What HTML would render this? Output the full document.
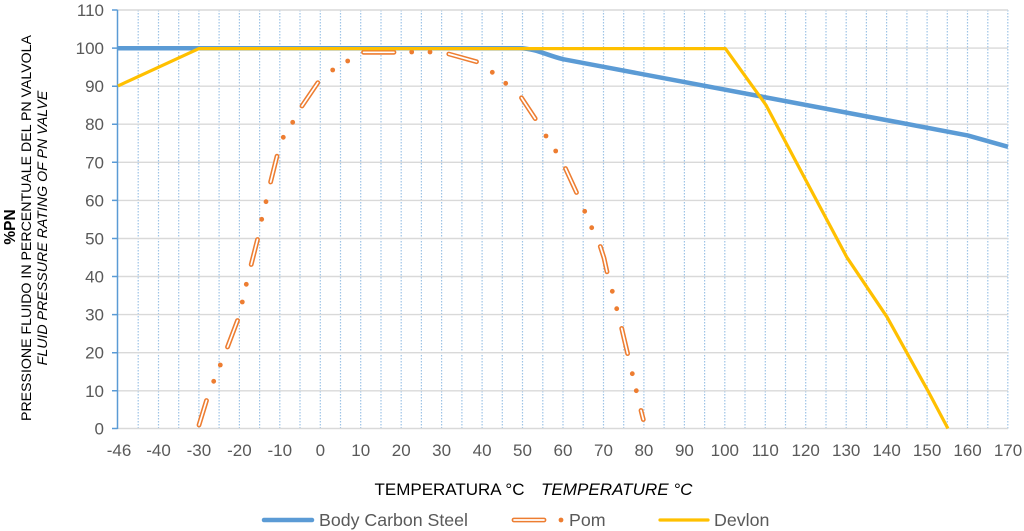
<!DOCTYPE html>
<html>
<head>
<meta charset="utf-8">
<style>
html,body{margin:0;padding:0;background:#fff;}
svg{display:block;}
text{font-family:"Liberation Sans",Arial,sans-serif;}
</style>
</head>
<body>
<svg width="1024" height="531" viewBox="0 0 1024 531" xmlns="http://www.w3.org/2000/svg">
<rect width="1024" height="531" fill="#fff"/>

<path d="M138.2,10V428.5M158.5,10V428.5M178.7,10V428.5M198.9,10V428.5M219.1,10V428.5M239.4,10V428.5M259.6,10V428.5M279.8,10V428.5M300,10V428.5M320.3,10V428.5M340.5,10V428.5M360.7,10V428.5M381,10V428.5M401.2,10V428.5M421.4,10V428.5M441.6,10V428.5M461.9,10V428.5M482.1,10V428.5M502.3,10V428.5M522.5,10V428.5M542.8,10V428.5M563,10V428.5M583.2,10V428.5M603.5,10V428.5M623.7,10V428.5M643.9,10V428.5M664.1,10V428.5M684.4,10V428.5M704.6,10V428.5M724.8,10V428.5M745,10V428.5M765.3,10V428.5M785.5,10V428.5M805.7,10V428.5M826,10V428.5M846.2,10V428.5M866.4,10V428.5M886.6,10V428.5M906.9,10V428.5M927.1,10V428.5M947.3,10V428.5M967.5,10V428.5M987.8,10V428.5M1007.8,10V428.5" stroke="#9DC3E6" stroke-width="1.2" stroke-dasharray="1.5,1.5" fill="none"/>

<path d="M117.5,10H1008M117.5,48.1H1008M117.5,86.2H1008M117.5,124.2H1008M117.5,162.3H1008M117.5,200.4H1008M117.5,238.5H1008M117.5,276.5H1008M117.5,314.6H1008M117.5,352.7H1008M117.5,390.8H1008M117.5,428.5H1008" stroke="#D9D9D9" stroke-width="1.4" fill="none"/>

<path d="M117.5,10V429M112,10H117.5M112,48.1H117.5M112,86.2H117.5M112,124.2H117.5M112,162.3H117.5M112,200.4H117.5M112,238.5H117.5M112,276.5H117.5M112,314.6H117.5M112,352.7H117.5M112,390.8H117.5M112,428.5H117.5" stroke="#5B9BD5" stroke-width="1.5" fill="none"/>

<g fill="#595959" font-size="17" text-anchor="end">
<text x="104" y="16">110</text>
<text x="104" y="54.1">100</text>
<text x="104" y="92.2">90</text>
<text x="104" y="130.2">80</text>
<text x="104" y="168.3">70</text>
<text x="104" y="206.4">60</text>
<text x="104" y="244.5">50</text>
<text x="104" y="282.5">40</text>
<text x="104" y="320.6">30</text>
<text x="104" y="358.7">20</text>
<text x="104" y="396.8">10</text>
<text x="104" y="434.5">0</text>
</g>

<g fill="#595959" font-size="17" text-anchor="middle">
<text x="119" y="456">-46</text>
<text x="158.5" y="456">-40</text>
<text x="198.9" y="456">-30</text>
<text x="239.4" y="456">-20</text>
<text x="279.8" y="456">-10</text>
<text x="320.3" y="456">0</text>
<text x="360.7" y="456">10</text>
<text x="401.2" y="456">20</text>
<text x="441.6" y="456">30</text>
<text x="482.1" y="456">40</text>
<text x="522.5" y="456">50</text>
<text x="563" y="456">60</text>
<text x="603.5" y="456">70</text>
<text x="643.9" y="456">80</text>
<text x="684.4" y="456">90</text>
<text x="724.8" y="456">100</text>
<text x="765.3" y="456">110</text>
<text x="805.7" y="456">120</text>
<text x="846.2" y="456">130</text>
<text x="886.6" y="456">140</text>
<text x="927.1" y="456">150</text>
<text x="967.5" y="456">160</text>
<text x="1008" y="456">170</text>
</g>

<path d="M118,48.2 L520,48.2 C535,48.4 548,55.6 563,59.2 L603.5,66.8 L967.6,135.4 L1008,146.8" fill="none" stroke="#5B9BD5" stroke-width="4.5" stroke-linejoin="round"/>

<g fill="none" stroke-linecap="round" stroke-linejoin="round">
<path d="M199,425 L206.5,400.5 M227.5,347 L237.5,320.5 M251.2,264.5 L257.5,239.5 M270.6,182 L277,156.2 M302,106 L317.8,82.7 M363.5,52.3 L394,52.3 M448.8,54 L476.5,61.7 M521.5,97.8 L535.2,118.6 M565.5,168.5 L576.5,192.5 M600.3,246.5 L604,258 L607,271.8 M621.7,328.4 L627.6,353.6 M641,410.5 L643.3,419.5" stroke="#ED7D31" stroke-width="4.8"/>
<path d="M199,425 L206.5,400.5 M227.5,347 L237.5,320.5 M251.2,264.5 L257.5,239.5 M270.6,182 L277,156.2 M302,106 L317.8,82.7 M363.5,52.3 L394,52.3 M448.8,54 L476.5,61.7 M521.5,97.8 L535.2,118.6 M565.5,168.5 L576.5,192.5 M600.3,246.5 L604,258 L607,271.8 M621.7,328.4 L627.6,353.6 M641,410.5 L643.3,419.5" stroke="#fff" stroke-width="1.7"/>
</g>

<g fill="#ED7D31">
<circle cx="213.7" cy="381.3" r="2.4"/>
<circle cx="220.3" cy="365" r="2.4"/>
<circle cx="242.3" cy="302" r="2.4"/>
<circle cx="246.3" cy="284.3" r="2.4"/>
<circle cx="261.7" cy="219.3" r="2.4"/>
<circle cx="266" cy="201.7" r="2.4"/>
<circle cx="283.3" cy="137.3" r="2.4"/>
<circle cx="292.7" cy="122.3" r="2.4"/>
<circle cx="332.7" cy="70" r="2.4"/>
<circle cx="347.7" cy="61" r="2.4"/>
<circle cx="411.7" cy="52" r="2.4"/>
<circle cx="430" cy="52" r="2.4"/>
<circle cx="492.3" cy="72.3" r="2.4"/>
<circle cx="505.7" cy="83.3" r="2.4"/>
<circle cx="546" cy="136" r="2.4"/>
<circle cx="555.7" cy="151" r="2.4"/>
<circle cx="584.7" cy="211.3" r="2.4"/>
<circle cx="591.7" cy="227.7" r="2.4"/>
<circle cx="612.3" cy="291.3" r="2.4"/>
<circle cx="616.7" cy="308.7" r="2.4"/>
<circle cx="632.3" cy="373.7" r="2.4"/>
<circle cx="636.3" cy="390.7" r="2.4"/>
</g>

<polyline points="118,85.9 199,48.6 725.4,48.6 765.9,104.9 806.3,181.1 846.8,257.2 887.2,317.3 927.7,390.4 947.9,428.5" fill="none" stroke="#FFC000" stroke-width="3.2" stroke-linejoin="round"/>

<g fill="#000" text-anchor="middle">
<text transform="translate(15,227) rotate(-90)" font-size="15.5" font-weight="bold">%PN</text>
<text transform="translate(31,228) rotate(-90)" font-size="14.2" textLength="386" lengthAdjust="spacingAndGlyphs">PRESSIONE FLUIDO IN PERCENTUALE DEL PN VALVOLA</text>
<text transform="translate(47,228) rotate(-90)" font-size="14.2" font-style="italic">FLUID PRESSURE RATING OF PN VALVE</text>
</g>

<g fill="#000" font-size="17">
<text x="374.5" y="495" textLength="150" lengthAdjust="spacingAndGlyphs">TEMPERATURA °C</text>
<text x="541" y="495" font-style="italic" textLength="151.5" lengthAdjust="spacingAndGlyphs">TEMPERATURE °C</text>
</g>

<line x1="264" y1="520" x2="312" y2="520" stroke="#5B9BD5" stroke-width="4.5" stroke-linecap="round"/>
<text x="319" y="526" font-size="17.8" fill="#595959" textLength="149" lengthAdjust="spacingAndGlyphs">Body Carbon Steel</text>
<line x1="514" y1="520" x2="544" y2="520" stroke="#ED7D31" stroke-width="4.8" stroke-linecap="round"/>
<line x1="514" y1="520" x2="544" y2="520" stroke="#fff" stroke-width="1.7" stroke-linecap="round"/>
<circle cx="561" cy="520" r="2.4" fill="#ED7D31"/>
<text x="569" y="526" font-size="17.8" fill="#595959">Pom</text>
<line x1="660" y1="520" x2="708" y2="520" stroke="#FFC000" stroke-width="3.2" stroke-linecap="round"/>
<text x="714" y="526" font-size="17.8" fill="#595959">Devlon</text>
</svg>
</body>
</html>
